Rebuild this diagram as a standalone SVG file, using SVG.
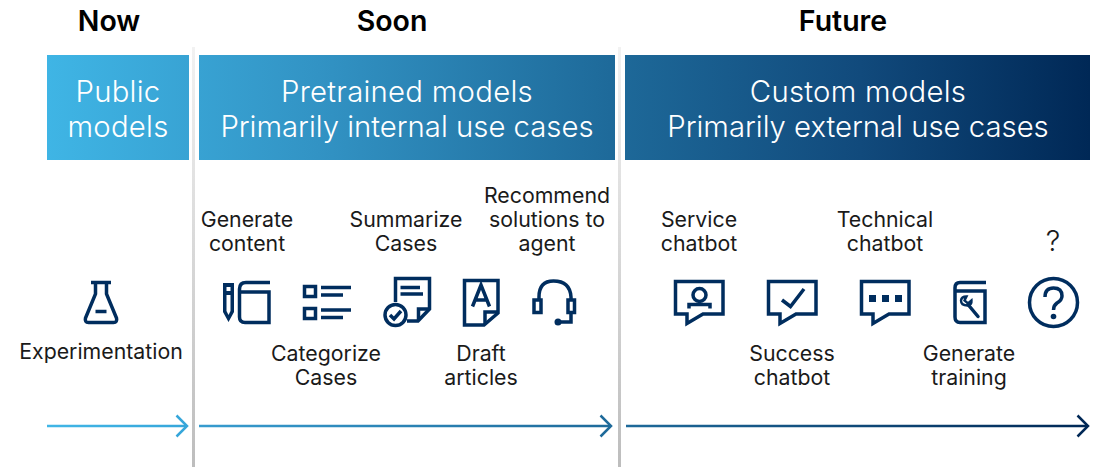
<svg xmlns="http://www.w3.org/2000/svg" width="1097" height="467" viewBox="0 0 1097 467">
<defs>
<linearGradient id="band" gradientUnits="userSpaceOnUse" x1="47" y1="0" x2="1090" y2="0">
<stop offset="0" stop-color="#3fb5e5"/><stop offset="0.26" stop-color="#3293c4"/><stop offset="0.54" stop-color="#1e6a9a"/><stop offset="0.78" stop-color="#114a7c"/><stop offset="1" stop-color="#002856"/>
</linearGradient>
<linearGradient id="rule" gradientUnits="userSpaceOnUse" x1="0" y1="47" x2="0" y2="467">
<stop offset="0" stop-color="#f2f2f2"/><stop offset="1" stop-color="#bdbdbd"/>
</linearGradient>
<marker id="h1" viewBox="0 0 14 24" refX="12" refY="12" markerWidth="14" markerHeight="24" markerUnits="userSpaceOnUse" orient="auto"><path d="M1.500 1.500L12 12L1.500 22.500" fill="none" stroke="#36a6da" stroke-width="2.500"/></marker>
<marker id="h2" viewBox="0 0 14 24" refX="12" refY="12" markerWidth="14" markerHeight="24" markerUnits="userSpaceOnUse" orient="auto"><path d="M1.500 1.500L12 12L1.500 22.500" fill="none" stroke="#1e6a9a" stroke-width="2.500"/></marker>
<marker id="h3" viewBox="0 0 14 24" refX="12" refY="12" markerWidth="14" markerHeight="24" markerUnits="userSpaceOnUse" orient="auto"><path d="M1.500 1.500L12 12L1.500 22.500" fill="none" stroke="#002856" stroke-width="2.500"/></marker>
<linearGradient id="a1" gradientUnits="userSpaceOnUse" x1="47" y1="0" x2="188" y2="0"><stop offset="0" stop-color="#41b6e6"/><stop offset="1" stop-color="#36a6da"/></linearGradient>
<linearGradient id="a2" gradientUnits="userSpaceOnUse" x1="199" y1="0" x2="612" y2="0"><stop offset="0" stop-color="#379ccf"/><stop offset="1" stop-color="#1e6a9a"/></linearGradient>
<linearGradient id="a3" gradientUnits="userSpaceOnUse" x1="626" y1="0" x2="1088" y2="0"><stop offset="0" stop-color="#1e6a9a"/><stop offset="1" stop-color="#002856"/></linearGradient>
</defs>
<style>
text{font-family:"Inter","Liberation Sans",sans-serif;text-anchor:middle}
.h{font-size:28.500px;font-weight:600;fill:#000}
.b{font-size:29.300px;font-weight:300;fill:#fff}
.s{letter-spacing:.27px}
.l{font-size:21.300px;font-weight:400;fill:#1a1a1a}
.i{fill:none;stroke:#002d5e;stroke-width:3.500}
.f{fill:#002d5e;stroke:none}
.r{stroke:url(#rule);stroke-width:3;fill:none}
</style>
<rect width="1097" height="467" fill="#fff"/>
<g id="dividers">
<path class="r" d="M193.500 47V467"/>
<path class="r" d="M619.500 47V467"/>
</g>
<g id="now-title"><text class="h" x="109" y="31">Now</text></g>
<g id="soon-title"><text class="h" x="392" y="31">Soon</text></g>
<g id="future-title"><text class="h" x="843" y="31">Future</text></g>
<g id="band-public"><rect x="47" y="55" width="142" height="105" fill="url(#band)"/><text class="b s" x="118" y="102">Public</text><text class="b s" x="118" y="137">models</text></g>
<g id="band-pretrained"><rect x="199" y="55" width="416" height="105" fill="url(#band)"/><text class="b s" x="407" y="102">Pretrained models</text><text class="b" x="407" y="137">Primarily internal use cases</text></g>
<g id="band-custom"><rect x="625" y="55" width="465" height="105" fill="url(#band)"/><text class="b s" x="858" y="102">Custom models</text><text class="b" x="858" y="137">Primarily external use cases</text></g>
<g id="experimentation">
<path class="i" d="M91 282.500H111M95.500 282.500V294L85.500 318Q84.500 322.500 88.500 322.500H113.500Q117.500 322.500 116.500 318L106.500 294V282.500"/>
<path class="i" d="M95.500 311.500H106.500"/>
<text class="l" x="101" y="359">Experimentation</text>
</g>
<g id="generate-content">
<path class="f" fill-rule="evenodd" d="M223 283H234V312L228.500 322L223 312ZM226.500 287V291H230.500V287ZM226.500 295V311L228.500 315L230.500 311V295Z"/>
<path class="i" d="M270 282.500H246Q239.500 282.500 239.500 289V317Q239.500 322.500 245 322.500H269V292H240"/>
<text class="l" x="247" y="227">Generate</text><text class="l" x="247" y="251">content</text>
</g>
<g id="categorize-cases">
<path class="i" d="M304.500 286.500H315.500V296.500H304.500ZM304.500 308.500H315.500V318.500H304.500Z"/>
<path class="i" d="M321 287.500H351M321 295H343M321 310H351M321 317.500H343"/>
<text class="l" x="326" y="361">Categorize</text><text class="l" x="326" y="385">Cases</text>
</g>
<g id="summarize-cases">
<path class="i" d="M395.500 302V278.500H429.500V309L418 321H407"/>
<path class="i" d="M429 309H418.500V320"/>
<path class="i" d="M400.500 287.500H420M400.500 294H423"/>
<circle class="i" cx="395.500" cy="315" r="10.500"/>
<path class="i" d="M390 315L394 319L401 311"/>
<text class="l" x="406" y="227">Summarize</text><text class="l" x="406" y="251">Cases</text>
</g>
<g id="draft-articles">
<path class="i" d="M464.500 280.500H498V313L484 325H464.500Z"/>
<path class="i" d="M497.500 312H485V324"/>
<path class="i" d="M472.500 306.500L481 285L489.500 306.500M475 300H487"/>
<text class="l" x="481" y="361">Draft</text><text class="l" x="481" y="385">articles</text>
</g>
<g id="recommend-solutions">
<path class="i" d="M539 300V297Q539 281 553.500 281Q570 281 571 297V300"/>
<path class="i" d="M534 300H541V312.500H534ZM568 300H574.500V312.500H568ZM571 312.500V322H560"/>
<circle class="f" cx="558" cy="322" r="3.500"/>
<text class="l" x="547" y="203">Recommend</text><text class="l" x="547" y="227">solutions to</text><text class="l" x="547" y="251">agent</text>
</g>
<g id="service-chatbot">
<path class="i" d="M675.500 281.500H723V314H703L687 323.500V314H675.500Z"/>
<circle class="i" cx="699.500" cy="295" r="6.500"/>
<path class="i" d="M689 308.500V304.500H710V308.500"/>
<text class="l" x="699" y="227">Service</text><text class="l" x="699" y="251">chatbot</text>
</g>
<g id="success-chatbot">
<path class="i" d="M768.500 281.500H816V314H796L780 323.500V314H768.500Z"/>
<path class="i" d="M782 300L790.500 306.500L804 289"/>
<text class="l" x="792" y="361">Success</text><text class="l" x="792" y="385">chatbot</text>
</g>
<g id="technical-chatbot">
<path class="i" d="M861.500 281.500H909V314H889L873 323.500V314H861.500Z"/>
<rect class="f" x="869" y="295" width="7" height="7"/><rect class="f" x="882" y="295" width="7" height="7"/><rect class="f" x="895" y="295" width="7" height="7"/>
<text class="l" x="885" y="227">Technical</text><text class="l" x="885" y="251">chatbot</text>
</g>
<g id="generate-training">
<path class="i" d="M986 282.500H960Q955 282.500 955 288V317Q955 322.500 960 322.500H985V291H955"/>
<path class="i" d="M968 304.500L978 316.500" stroke-linecap="round"/>
<path class="i" style="stroke-width:2.400" d="M966.500 296.500L964.500 300.500L968 303.500L971.500 300.500Q972 305 967.500 305.500Q961 305.500 961 300.500Q961.500 296.500 966.500 296.500Z"/>
<text class="l" x="969" y="361">Generate</text><text class="l" x="969" y="385">training</text>
</g>
<g id="unknown">
<circle class="i" cx="1053.500" cy="302.500" r="24"/>
<path class="i" d="M1045 297Q1045 288 1053.500 288Q1062 288 1062 296Q1062 300 1057 303Q1053.500 305.500 1053.500 310"/>
<circle class="f" cx="1053.500" cy="316.500" r="2.800"/>
<text class="l" x="1053" y="251" style="font-size:29px;font-weight:300">?</text>
</g>
<g id="connectors">
<path d="M47 426H187" fill="none" stroke="url(#a1)" stroke-width="2.500" marker-end="url(#h1)"/>
<path d="M199 426H611" fill="none" stroke="url(#a2)" stroke-width="2.500" marker-end="url(#h2)"/>
<path d="M626 426H1088" fill="none" stroke="url(#a3)" stroke-width="2.500" marker-end="url(#h3)"/>
</g>
</svg>
